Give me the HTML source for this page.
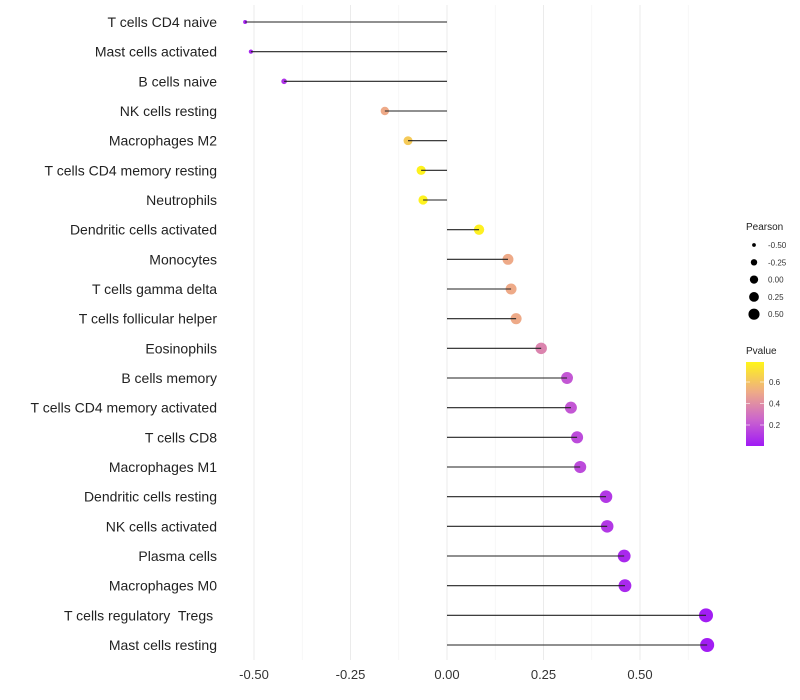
<!DOCTYPE html>
<html><head><meta charset="utf-8"><style>
body{margin:0;background:#fff;}
svg{display:block;font-family:"Liberation Sans",sans-serif;}
text{white-space:pre;}
</style></head><body>
<svg id="chart" width="800" height="700" viewBox="0 0 800 700">
<g id="grid"></g>
<g id="marks"></g>
<g id="ylabels"></g>
<g id="xlabels"></g>
<g id="legend-size">
<text x="746" y="230" font-size="10" fill="#222">Pearson</text>
</g>
<g id="legend-color">
<text x="746" y="354" font-size="10" fill="#222">Pvalue</text>
<defs><linearGradient id="pg" x1="0" y1="1" x2="0" y2="0">
<stop offset="0" stop-color="#A01AF5"/><stop offset="0.32" stop-color="#CC66CC"/><stop offset="0.64" stop-color="#EEAA88"/><stop offset="1" stop-color="#FFF51A"/></linearGradient></defs>
<rect x="746" y="362" width="18" height="84" fill="url(#pg)"/>
</g>
</svg>
<script>
const categories=["T cells CD4 naive","Mast cells activated","B cells naive","NK cells resting","Macrophages M2","T cells CD4 memory resting","Neutrophils","Dendritic cells activated","Monocytes","T cells gamma delta","T cells follicular helper","Eosinophils","B cells memory","T cells CD4 memory activated","T cells CD8","Macrophages M1","Dendritic cells resting","NK cells activated","Plasma cells","Macrophages M0","T cells regulatory  Tregs ","Mast cells resting"];
const pearson=[-0.523,-0.508,-0.422,-0.161,-0.101,-0.067,-0.062,0.083,0.158,0.166,0.179,0.244,0.311,0.321,0.337,0.345,0.412,0.415,0.459,0.461,0.671,0.674];
const pvalue=[0.03,0.04,0.08,0.5,0.62,0.77,0.77,0.76,0.5,0.5,0.5,0.36,0.2,0.2,0.16,0.16,0.1,0.1,0.05,0.05,0.01,0.01];
const xTicks=[-0.5,-0.25,0,0.25,0.5];
const xTickLabels=["-0.50","-0.25","0.00","0.25","0.50"];
const sizeLegendVals=[-0.5,-0.25,0,0.25,0.5];
const colorLegendVals=[0.2,0.4,0.6];
const NS="http://www.w3.org/2000/svg";
const x=v=>447+v*386;
const y=i=>22+i*29.667;
const r=v=>Math.sqrt(Math.max(1,23.7+37.8*v));
const stops=[[0,[160,26,245]],[0.25,[204,102,204]],[0.5,[238,170,136]],[0.78,[255,245,26]]];
function col(p){p=Math.max(0,Math.min(0.78,p));for(let k=1;k<stops.length;k++){if(p<=stops[k][0]){const a=stops[k-1],b=stops[k],t=(p-a[0])/(b[0]-a[0]);return "rgb("+a[1].map((c,j)=>Math.round(c+(b[1][j]-c)*t)).join(",")+")";}}return "rgb(255,245,26)";}
function mk(tag,attrs,parent){const e=document.createElementNS(NS,tag);for(const k in attrs)e.setAttribute(k,attrs[k]);parent.appendChild(e);return e;}
const grid=document.getElementById('grid'),marks=document.getElementById('marks'),yl=document.getElementById('ylabels'),xl=document.getElementById('xlabels');
for(let v=-0.625;v<=0.76;v+=0.125){const px=x(v);if(px<228||px>722)continue;const major=Math.abs((v/0.25)-Math.round(v/0.25))<1e-6;
const g=mk('line',{x1:px,x2:px,y1:5,y2:660,stroke:major?'#ebebeb':'#f4f4f4','stroke-width':major?1:0.7},grid);

}
xTicks.forEach((v,i)=>{const t=mk('text',{x:x(v),y:679,'font-size':13,'text-anchor':'middle',fill:'#333'},xl);t.textContent=xTickLabels[i];

});
categories.forEach((c,i)=>{const yy=y(i);
const t=mk('text',{x:217,y:yy+5,'font-size':14,'text-anchor':'end',fill:'#222'},yl);t.textContent=c;


const d=mk('circle',{cx:x(pearson[i]),cy:yy,r:r(pearson[i]),fill:col(pvalue[i])},marks);


const l=mk('line',{x1:x(0),x2:x(pearson[i]),y1:yy,y2:yy,stroke:'#222','stroke-width':1.1},marks);

});
const ls=document.getElementById('legend-size');
sizeLegendVals.forEach((v,i)=>{const yy=245+i*17.3;
const c=mk('circle',{cx:754,cy:yy,r:r(v)*0.85,fill:'#000'},ls);


const t=mk('text',{x:768,y:yy+3,'font-size':8,fill:'#333'},ls);t.textContent=v.toFixed(2);

});
const lc=document.getElementById('legend-color');
colorLegendVals.forEach(v=>{const yy=446.5-v*107.5;
mk('line',{x1:746,x2:750,y1:yy,y2:yy,stroke:'#fff','stroke-width':0.6},lc);
mk('line',{x1:760,x2:764,y1:yy,y2:yy,stroke:'#fff','stroke-width':0.6},lc);
const t=mk('text',{x:769,y:yy+3,'font-size':8,fill:'#333'},lc);t.textContent=v.toFixed(1);

});
</script>
</body></html>
